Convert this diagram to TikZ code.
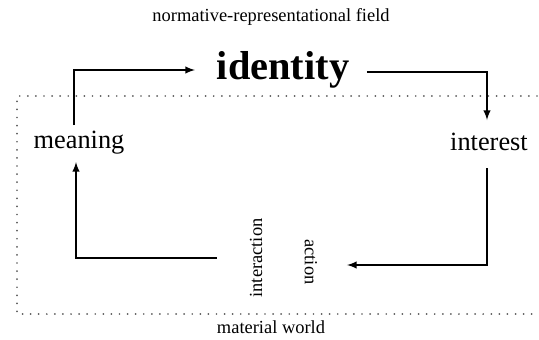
\documentclass[tikz,border=0pt]{standalone}
\usepackage{fontspec}
\setmainfont{Liberation Serif}
\usepackage{tikz}
\usetikzlibrary{arrows, positioning}

\begin{document}
\begin{tikzpicture}[x=0.02cm, y=-0.02cm]
\tikzstyle{field} = [font=\fontsize{10.5}{12}\selectfont]
\tikzstyle{concept} = [font=\fontsize{15}{18}\selectfont, inner sep=1pt]
\tikzstyle{flow} = [draw, line width=0.9pt, -latex]
\tikzstyle{border} = [draw, line width=1.1pt, line cap=round, dash pattern=on 0pt off 4.6pt, gray!70!black]

\useasboundingbox (0,0) rectangle (539,339);

% dotted frame of the material world
\draw[border] (537,96) -- (17,96) -- (17,314) -- (537,314);

\node (norm) [field] at (271,17) {normative-representational field};
\node (mat) [field] at (271,327) {material world};

\node (id) [concept, font=\fontsize{23}{26}\selectfont\bfseries] at (283,70) {identity};
\node (mean) [concept] at (79,143) {meaning};
\node (int) [concept] at (489,142) {interest};
\node (inter) [field, rotate=90] at (256,258) {interaction};
\node (act) [field, rotate=-90] at (311,262) {action};

\coordinate (c1) at (74,125);
\coordinate (c2) at (195,70);
\coordinate (c3) at (367,72);
\coordinate (c4) at (487,120);
\coordinate (c5) at (487,168);
\coordinate (c6) at (347,265);
\coordinate (c7) at (217,258);
\coordinate (c8) at (76,162);

\draw[flow] (c1) |- (c2);
\draw[flow] (c3) -| (c4);
\draw[flow] (c5) |- (c6);
\draw[flow] (c7) -| (c8);

\end{tikzpicture}
\end{document}
